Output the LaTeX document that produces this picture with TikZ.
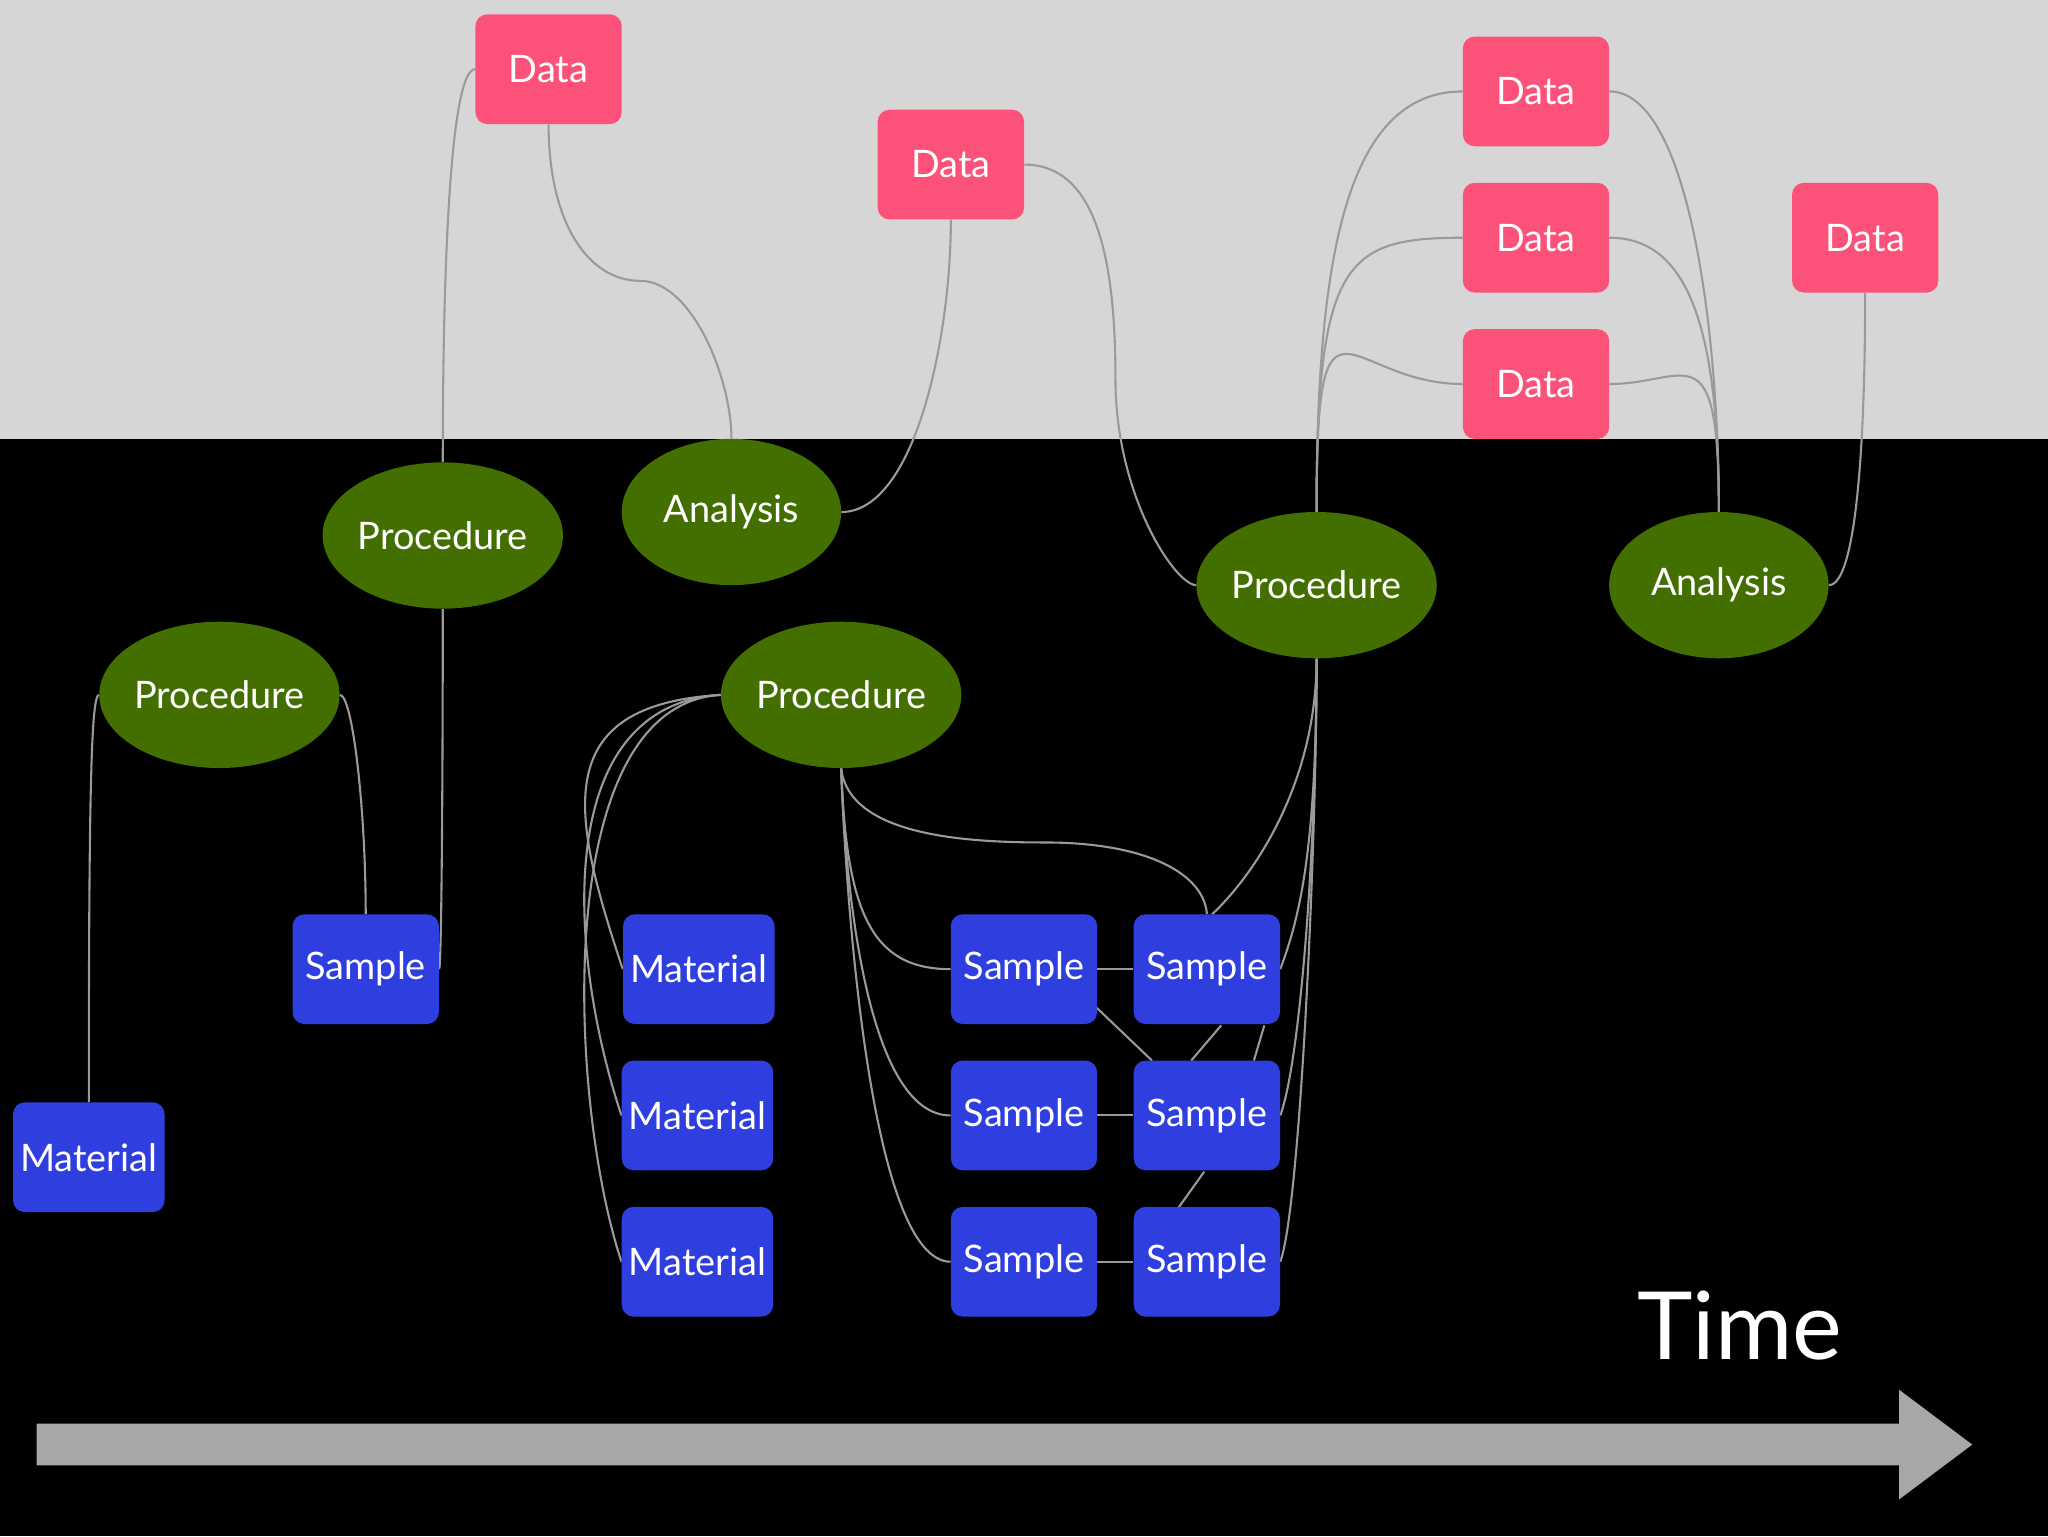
\documentclass[tikz,border=0pt]{standalone}
\usepackage{fontspec}
\setmainfont{Lato}
\usetikzlibrary{shapes.geometric,calc,backgrounds}
\definecolor{dpink}{HTML}{FC527A}
\definecolor{pgreen}{HTML}{436E00}
\definecolor{sblue}{HTML}{2F3EDF}
\definecolor{topgray}{HTML}{D6D6D6}
\definecolor{arrgray}{HTML}{A8A6A8}
\definecolor{edgegray}{HTML}{9A9A9A}
\pgfdeclarelayer{bg0}
\pgfsetlayers{bg0,background,main}
\begin{document}
\begin{tikzpicture}[x=1pt,y=-1pt,
  lab/.style={text=white,font=\fontsize{29}{30}\selectfont},
  data/.style={lab,fill=dpink,rounded corners=9pt,minimum width=112pt,minimum height=84pt,inner sep=0pt},
  samp/.style={lab,fill=sblue,rounded corners=9pt,minimum width=112pt,minimum height=84pt,inner sep=0pt},
  mat/.style={samp,minimum width=116pt},
  proc/.style={lab,ellipse,fill=pgreen,minimum width=168pt,minimum height=112pt,inner sep=0pt},
  e/.style={draw=edgegray,line width=1.6pt}]
\useasboundingbox (0,0) rectangle (1568,1176);
\begin{pgfonlayer}{bg0}
\fill[topgray] (0,0) rectangle (1568,336);
\fill[black] (0,336) rectangle (1568,1176);
\end{pgfonlayer}
\fill[arrgray] (28,1090) -- (1454,1090) -- (1454,1064) -- (1510,1106) -- (1454,1148) -- (1454,1122) -- (28,1122) -- cycle;
\node[text=white,font=\fontsize{72}{72}\selectfont] (time) at (1332,1015) {Time};
% nodes
\node[data] (d1) at (420,53) {Data};
\node[data] (d2) at (728,126) {Data};
\node[data] (d3) at (1176,70) {Data};
\node[data] (d4) at (1176,182) {Data};
\node[data] (d5) at (1176,294) {Data};
\node[data] (d6) at (1428,182) {Data};
\node[proc] (pa) at (339,410) {Procedure};
\node[proc] (an1) at (560,392) {Analysis};
\node[proc] (pb) at (168,532) {Procedure};
\node[proc] (pc) at (644,532) {Procedure};
\node[proc] (pd) at (1008,448) {Procedure};
\node[proc] (an2) at (1316,448) {Analysis};
\node[samp] (s0) at (280,742) {Sample};
\node[mat] (m0) at (68,886) {Material};
\node[mat] (m1) at (535,742) {Material};
\node[mat] (m2) at (534,854) {Material};
\node[mat] (m3) at (534,966) {Material};
\node[samp] (a1) at (784,742) {Sample};
\node[samp] (a2) at (784,854) {Sample};
\node[samp] (a3) at (784,966) {Sample};
\node[samp] (b1) at (924,742) {Sample};
\node[samp] (b2) at (924,854) {Sample};
\node[samp] (b3) at (924,966) {Sample};
% edges
\begin{scope}[on background layer]
\draw[e] (m0.north) .. controls (68,600) and (70,532) .. (pb.west);
\draw[e] (pb.east) .. controls (270,532) and (280,620) .. (s0.north);
\draw[e] (s0.east) .. controls (338,742) and (339,600) .. (pa.south);
\draw[e] (pa.north) .. controls (339,200) and (345,53) .. (d1.west);
\draw[e] (d1.south) .. controls (420,170) and (450,215) .. (490,215) .. controls (530,215) and (560,290) .. (an1.north);
\draw[e] (an1.east) .. controls (700,392) and (728,260) .. (d2.south);
\draw[e] (d2.east) .. controls (840,126) and (854,200) .. (854,290) .. controls (854,380) and (900,448) .. (pd.west);
\foreach \d in {d3,d4,d5}{
  \draw[e] (pd.north) .. controls (1008,200) and ($(\d.west)+(-90,0)$) .. (\d.west);
  \draw[e] (an2.north) .. controls (1316,250) and ($(\d.east)+(60,0)$) .. (\d.east);
}
\draw[e] (d6.south) .. controls (1428,350) and (1420,448) .. (an2.east);
\foreach \m in {m1,m2,m3}
  \draw[e] (pc.west) .. controls (420,540) and ($(\m.west)+(-40,-120)$) .. (\m.west);
\foreach \s in {a1,a2,a3}
  \draw[e] (pc.south) .. controls (648,700) and ($(\s.west)+(-60,0)$) .. (\s.west);
\draw[e] (pc.south) .. controls (650,640) and (740,645) .. (800,645) .. controls (880,645) and (922,670) .. (b1.north);
\draw[e] (a1.east) -- (b1.west);
\draw[e] (a2.east) -- (b2.west);
\draw[e] (a3.east) -- (b3.west);
\draw[e] (838,770) -- (882,812);
\draw[e] (935,785) -- (912,812);
\draw[e] (968,785) -- (960,812);
\draw[e] (922,897) -- (902,925);
\draw[e] (pd.south) .. controls (1008,600) and (960,670) .. (928,700);
\foreach \s in {b1,b2,b3}
  \draw[e] (pd.south) .. controls (1008,650) and ($(\s.east)+(15,-40)$) .. (\s.east);
\end{scope}
\end{tikzpicture}
\end{document}
